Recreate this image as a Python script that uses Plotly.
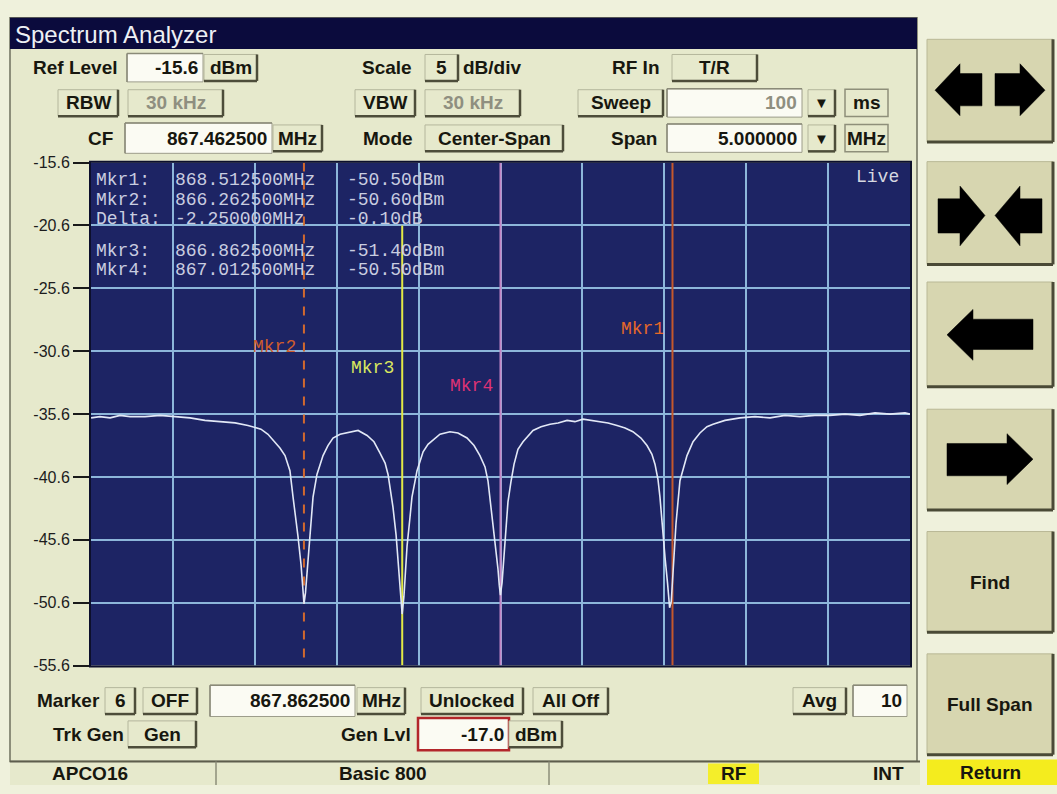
import plotly.graph_objects as go

# ---------------- data ----------------
center_freq_mhz = 867.4625
span_mhz = 5.0
ref_level_dbm = -15.6
scale_db_per_div = 5

trace_freq_mhz = [
    864.963, 865.017, 865.079, 865.140, 865.201, 865.292, 865.384, 865.463, 865.567, 865.658,
    865.756, 865.842, 865.921, 866.000, 866.043, 866.086, 866.116, 866.147, 866.177, 866.196,
    866.214, 866.226, 866.245, 866.255, 866.263, 866.272, 866.287, 866.306, 866.318, 866.342,
    866.379, 866.409, 866.440, 866.483, 866.544, 866.593, 866.648, 866.690, 866.727, 866.758,
    866.776, 866.806, 866.825, 866.837, 866.849, 866.862, 866.873, 866.892, 866.910, 866.922,
    866.953, 866.990, 867.020, 867.050, 867.093, 867.154, 867.203, 867.258, 867.301, 867.337,
    867.368, 867.386, 867.417, 867.435, 867.447, 867.455, 867.462, 867.472, 867.490, 867.508,
    867.526, 867.545, 867.569, 867.600, 867.661, 867.710, 867.765, 867.814, 867.869, 867.917,
    867.966, 868.021, 868.070, 868.119, 868.174, 868.223, 868.271, 868.320, 868.357, 868.387,
    868.406, 868.424, 868.436, 868.454, 868.467, 868.482, 868.495, 868.505, 868.518, 868.534,
    868.558, 868.601, 868.638, 868.680, 868.723, 868.760, 868.833, 868.925, 869.016, 869.108,
    869.199, 869.291, 869.382, 869.474, 869.566, 869.657, 869.749, 869.840, 869.932, 869.962,
]
trace_level_dbm = [
    -35.9, -35.8, -35.9, -35.7, -35.8, -35.8, -35.7, -35.8, -35.9, -36.1,
    -36.2, -36.3, -36.5, -36.8, -37.2, -37.8, -38.3, -38.9, -40.1, -42.2,
    -44.0, -45.3, -47.6, -49.6, -50.7, -49.8, -47.4, -44.3, -42.2, -40.4,
    -38.9, -38.1, -37.5, -37.2, -37.0, -36.9, -37.3, -37.8, -38.7, -39.5,
    -40.4, -43.0, -45.2, -47.1, -49.6, -51.5, -50.1, -46.1, -43.8, -42.2,
    -40.1, -38.6, -38.0, -37.7, -37.2, -37.0, -37.1, -37.5, -38.1, -38.9,
    -39.8, -40.9, -44.3, -46.3, -47.9, -49.2, -50.0, -49.0, -45.5, -42.6,
    -41.0, -39.6, -38.4, -37.8, -36.9, -36.6, -36.4, -36.3, -36.1, -36.2,
    -36.0, -36.1, -36.2, -36.3, -36.5, -36.7, -37.0, -37.5, -38.1, -38.8,
    -39.6, -40.8, -42.2, -45.3, -47.0, -49.0, -51.0, -50.5, -47.4, -44.3,
    -40.9, -38.9, -37.8, -37.1, -36.6, -36.4, -36.1, -35.9, -35.8, -35.9,
    -35.7, -35.8, -35.7, -35.7, -35.6, -35.7, -35.5, -35.6, -35.5, -35.6,
]

marker_names = ["Mkr1", "Mkr2", "Mkr3", "Mkr4"]
marker_line_freq_mhz = [868.5125, 866.2625, 866.8625, 867.4625]
marker_label_level_dbm = [-28.8, -30.3, -31.9, -33.4]

readout_names = ["Mkr1:", "Mkr2:", "Delta:", "Mkr3:", "Mkr4:"]
readout_freqs = ["868.512500MHz", "866.262500MHz", "-2.250000MHz", "866.862500MHz", "867.012500MHz"]
readout_levels = ["-50.50dBm", "-50.60dBm", "-0.10dB", "-51.40dBm", "-50.50dBm"]

y_tick_values = [-15.6, -20.6, -25.6, -30.6, -35.6, -40.6, -45.6, -50.6, -55.6]
y_tick_labels = ["-15.6", "-20.6", "-25.6", "-30.6", "-35.6", "-40.6", "-45.6", "-50.6", "-55.6"]

# ---------------- styling helpers ----------------
W, H = 1057, 794
PAGE = "#eff1dc"
PANEL = "#e6e9cc"
DARK = "#17170f"
SANS = "Liberation Sans, Arial, sans-serif"
MONO = "Liberation Mono, DejaVu Sans Mono, monospace"

PLOT_L, PLOT_R, PLOT_T, PLOT_B = 91, 910, 158, 672


def X(px):
    return px / W


def Y(py):
    return 1 - py / H


shapes = []
annots = []


def rect(x0, y0, x1, y1, fill, lc=None, lw=0, layer="below"):
    shapes.append(dict(type="rect", xref="paper", yref="paper",
                       x0=X(x0), x1=X(x1), y0=Y(y1), y1=Y(y0),
                       fillcolor=fill, layer=layer,
                       line=dict(color=lc if lc else "rgba(0,0,0,0)", width=lw)))


def hline(x0, x1, y, color, w):
    shapes.append(dict(type="line", xref="paper", yref="paper", layer="below",
                       x0=X(x0), x1=X(x1), y0=Y(y), y1=Y(y),
                       line=dict(color=color, width=w)))


def vline(x, y0, y1, color, w):
    shapes.append(dict(type="line", xref="paper", yref="paper", layer="below",
                       x0=X(x), x1=X(x), y0=Y(y0), y1=Y(y1),
                       line=dict(color=color, width=w)))


def txt(x, y, s, size=19, color=DARK, family=SANS, bold=True, anchor="center"):
    annots.append(dict(x=X(x), y=Y(y), xref="paper", yref="paper", text=s,
                       showarrow=False, xanchor=anchor, yanchor="middle",
                       borderpad=0, borderwidth=0,
                       font=dict(family=family, size=size, color=color,
                                 weight="bold" if bold else "normal")))


def button(x0, cy, x1, s, color=DARK, h=27, size=19):
    y0, y1 = cy - h / 2, cy + h / 2
    rect(x0, y0, x1, y1, PANEL, "#b4b69c", 1)
    hline(x0, x1, y1, "#4d4d3a", 2.5)
    vline(x1, y0, y1, "#4d4d3a", 2.5)
    txt((x0 + x1) / 2, cy, s, color=color, size=size)


def inbox(x0, cy, x1, s, color=DARK, h=29, border="#9c9c8a", bw=1, bold=True):
    y0, y1 = cy - h / 2, cy + h / 2
    rect(x0, y0, x1, y1, "#fbfbf3", border, bw)
    if bw <= 1:
        hline(x0, x1, y0, "#8a8a78", 1.5)
        vline(x0, y0, y1, "#8a8a78", 1.5)
    txt(x1 - 5, cy, s, color=color, anchor="right", bold=bold)


def poly(points, color="#000000"):
    path = "M " + " L ".join(f"{X(a):.5f},{Y(b):.5f}" for a, b in points) + " Z"
    shapes.append(dict(type="path", xref="paper", yref="paper", path=path, layer="below",
                       fillcolor=color, line=dict(color=color, width=0.5)))


# ---------------- main panel ----------------
rect(10, 10, 917, 770, PANEL, "#6f705e", 1.5)
rect(10, 10, 917, 42, "#0b0b3d")
txt(15, 27, "Spectrum Analyzer", size=24, color="#eef0f4", bold=False, anchor="left")

# row 1
r1 = 61
txt(117, r1, "Ref Level", anchor="right")
inbox(127, r1, 203, "-15.6")
button(204, r1, 257, "dBm")
txt(412, r1, "Scale", anchor="right")
button(425, r1, 458, "5")
txt(463, r1, "dB/div", anchor="left")
txt(660, r1, "RF In", anchor="right")
button(672, r1, 757, "T/R")

# row 2
r2 = 97
button(58, r2, 118, "RBW")
button(128, r2, 223, "30 kHz", color="#8f8f80")
button(355, r2, 415, "VBW")
button(425, r2, 520, "30 kHz", color="#8f8f80")
button(578, r2, 663, "Sweep")
inbox(667, r2, 802, "100", color="#8f8f80")
button(808, r2, 835, "▼", size=15)
rect(845, r2 - 14, 888, r2 + 14, PANEL, "#8e8f7a", 1.5)
txt(866, r2, "ms")

# row 3
r3 = 133
txt(113, r3, "CF", anchor="right")
inbox(125, r3, 272, "867.462500", h=31)
button(273, r3, 322, "MHz")
txt(413, r3, "Mode", anchor="right")
button(425, r3, 563, "Center-Span")
txt(657, r3, "Span", anchor="right")
inbox(667, r3, 802, "5.000000")
button(808, r3, 835, "▼", size=15)
rect(845, r3 - 14, 888, r3 + 14, PANEL, "#8e8f7a", 1.5)
txt(866, r3, "MHz")

# bottom row A
ra = 708
txt(100, ra, "Marker", anchor="right")
button(105, ra, 135, "6")
button(143, ra, 197, "OFF")
inbox(210, ra, 355, "867.862500", h=32)
button(357, ra, 405, "MHz")
button(421, ra, 523, "Unlocked")
button(533, ra, 608, "All Off")
button(793, ra, 846, "Avg")
inbox(853, ra, 907, "10", h=32)

# bottom row B
rb = 742
txt(124, rb, "Trk Gen", anchor="right")
button(128, rb, 196, "Gen")
txt(411, rb, "Gen Lvl", anchor="right")
inbox(418, rb, 509, "-17.0", h=33, border="#b3262a", bw=2.5)
button(509, rb, 562, "dBm")

# status bar
rect(10, 770, 920, 794, PANEL)
hline(10, 920, 770, "#5d5d4c", 2)
vline(216, 770, 794, "#8d8e7a", 1.5)
vline(549, 770, 794, "#8d8e7a", 1.5)
txt(90, 782, "APCO16")
txt(383, 782, "Basic 800")
rect(708, 772, 759, 793, "#f4ee2a")
txt(733, 782, "RF")
txt(888, 782, "INT")

# ---------------- right-hand soft keys ----------------
BTN = "#d7d6b0"
for (y0, y1) in [(32, 137), (157, 262), (280, 387), (410, 513), (535, 638), (660, 763)]:
    rect(927, y0, 1053, y1, BTN, "#b9b896", 1)
    hline(927, 1053, y1, "#4a4a36", 3)
    vline(1053, y0, y1, "#4a4a36", 3)

# arrows
poly([(935, 84), (960, 57), (960, 67), (982, 67), (982, 100), (960, 100), (960, 110)])
poly([(1045, 84), (1020, 57), (1020, 67), (995, 67), (995, 100), (1020, 100), (1020, 110)])
poly([(985, 212), (960, 182), (960, 195), (938, 195), (938, 230), (960, 230), (960, 243)])
poly([(995, 212), (1020, 182), (1020, 195), (1042, 195), (1042, 230), (1020, 230), (1020, 243)])
poly([(947, 334), (973, 308), (973, 318), (1033, 318), (1033, 349), (973, 349), (973, 360)])
poly([(1033, 461), (1007, 435), (1007, 445), (947, 445), (947, 478), (1007, 478), (1007, 487)])
txt(990, 587, "Find", size=19)
txt(990, 712, "Full Span", size=19)
rect(927, 768, 1057, 794, "#f4ec1e")
txt(990, 781, "Return", size=19)

# ---------------- plot area background, frame & readouts ----------------
rect(PLOT_L, PLOT_T, PLOT_R, PLOT_B, "#1d2464")
rect(PLOT_L - 1, PLOT_T - 1, PLOT_R + 1, PLOT_B + 1, "rgba(0,0,0,0)", "#0c0f2c", 2, layer="above")

fig = go.Figure()

marker_colors = ["#c4582c", "#d2692e", "#e2e846", "#c486c6"]
marker_dash = ["solid", "dash", "solid", "solid"]
label_colors = ["#e6682a", "#cf5c2c", "#dbe85e", "#de3274"]

for name, f, col, dsh in zip(marker_names, marker_line_freq_mhz, marker_colors, marker_dash):
    y_top = -20.6 if name == "Mkr3" else ref_level_dbm
    fig.add_trace(go.Scatter(x=[f, f], y=[y_top, ref_level_dbm - 8 * scale_db_per_div],
                             mode="lines", line=dict(color=col, width=2, dash=dsh),
                             hoverinfo="skip", showlegend=False))

fig.add_trace(go.Scatter(x=trace_freq_mhz, y=trace_level_dbm, mode="lines",
                         line=dict(color="#e2e8f6", width=1.6), showlegend=False,
                         name="Trace"))

for name, f, lvl, col in zip(marker_names, marker_line_freq_mhz, marker_label_level_dbm, label_colors):
    annots.append(dict(x=f, y=lvl, xref="x", yref="y", text=name, showarrow=False,
                       xanchor="right", yanchor="middle", xshift=-6,
                       font=dict(family=MONO, size=18, color=col)))

row_y = [176, 196, 216, 248, 268]
for yy, a, b, c in zip(row_y, readout_names, readout_freqs, readout_levels):
    txt(96, yy, a, size=18, color="#c9cde0", family=MONO, bold=False, anchor="left")
    txt(175, yy, b, size=18, color="#c9cde0", family=MONO, bold=False, anchor="left")
    txt(347, yy, c, size=18, color="#c9cde0", family=MONO, bold=False, anchor="left")
txt(899, 173, "Live", size=18, color="#d6d8e0", family=MONO, bold=False, anchor="right")

f0 = center_freq_mhz - span_mhz / 2
f1 = center_freq_mhz + span_mhz / 2

fig.update_layout(
    width=W, height=H,
    margin=dict(l=0, r=0, t=0, b=0),
    paper_bgcolor=PAGE,
    plot_bgcolor="rgba(0,0,0,0)",
    showlegend=False,
    shapes=shapes,
    annotations=annots,
    xaxis=dict(domain=[X(PLOT_L), X(PLOT_R)], range=[f0, f1],
               tick0=f0, dtick=span_mhz / 10, showticklabels=False,
               showgrid=True, gridcolor="#8db6da", gridwidth=1.5,
               zeroline=False, ticks="", fixedrange=True),
    yaxis=dict(domain=[Y(PLOT_B), Y(PLOT_T)],
               range=[ref_level_dbm - 8 * scale_db_per_div, ref_level_dbm],
               tickmode="array", tickvals=y_tick_values, ticktext=y_tick_labels,
               showgrid=True, gridcolor="#8db6da", gridwidth=1.5,
               zeroline=False, showline=False, mirror=False,
               ticks="outside", ticklen=17, tickwidth=2, tickcolor="#1a1a1a",
               tickfont=dict(family=SANS, size=16, color="#1c1c1c"),
               fixedrange=True),
)

fig.write_html("out.html", config={"displayModeBar": False},
               post_script="document.body.style.margin='0';document.body.style.overflow='hidden';")
